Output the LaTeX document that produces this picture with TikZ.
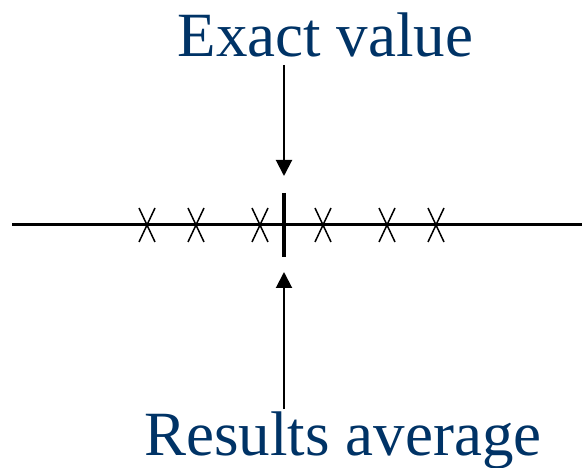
\documentclass[tikz,border=0pt]{standalone}
\usepackage{fontspec}
\setmainfont{Liberation Serif}
\usetikzlibrary{arrows.meta}
\definecolor{txtblue}{RGB}{0,51,102}
\begin{document}
\begin{tikzpicture}[x=1pt,y=-1pt,
  lbl/.style={text=txtblue,font=\fontsize{63}{70}\selectfont,inner sep=0pt,anchor=base},
  axis/.style={line width=3pt},
  xmark/.style={line width=1.5pt},
  pointer/.style={line width=2pt,-{Triangle[length=16pt,width=16pt]}}]
\useasboundingbox (0,0) rectangle (582,468);
\node[lbl] (exact) at (325.5,57) {Exact value};
\node[lbl] (avg) at (343,455) {Results average};
\coordinate (L) at (12,225);
\coordinate (R) at (582,225);
\draw[axis] (L) -- (R);
\coordinate (tt) at (284,193);
\coordinate (tb) at (284,257);
\draw[line width=3.2pt] (tt) -- (tb);
\foreach \x in {147,196,260,323,387,436}{
  \draw[xmark] (\x-8,208) -- (\x+8,242);
  \draw[xmark] (\x+8,208) -- (\x-8,242);
}
\coordinate (a1s) at (284,65);
\coordinate (a1e) at (284,176);
\coordinate (a2s) at (284,409);
\coordinate (a2e) at (284,272);
\draw[pointer] (a1s) -- (a1e);
\draw[pointer] (a2s) -- (a2e);
\end{tikzpicture}
\end{document}
